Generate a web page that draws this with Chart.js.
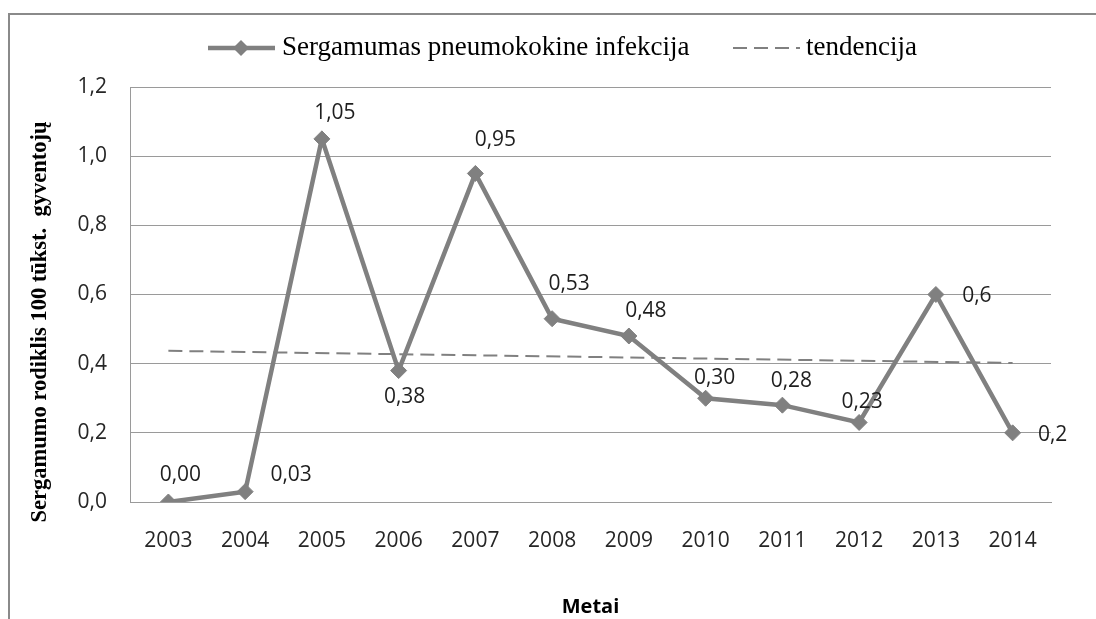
<!DOCTYPE html>
<html>
<head>
<meta charset="utf-8">
<script src="https://cdn.jsdelivr.net/npm/chart.js@4.4.1/dist/chart.umd.min.js"></script>
<style>
  html, body { margin: 0; padding: 0; background: #fff; }
  #wrap { width: 1096px; height: 619px; position: relative; }
</style>
</head>
<body>
<div id="wrap"><canvas id="chart" width="1096" height="619"></canvas></div>
<script>
// data
const years = ["2003", "2004", "2005", "2006", "2007", "2008", "2009", "2010", "2011", "2012", "2013", "2014"];
const incidence = [0.00, 0.03, 1.05, 0.38, 0.95, 0.53, 0.48, 0.30, 0.28, 0.23, 0.6, 0.2];
const valueLabels = ["0,00", "0,03", "1,05", "0,38", "0,95", "0,53", "0,48", "0,30", "0,28", "0,23", "0,6", "0,2"];
const trend = [0.437, null, null, null, null, null, null, null, null, null, null, 0.402];
const yTicks = [0, 0.2, 0.4, 0.6, 0.8, 1.0, 1.2];

const seriesName = "Sergamumas pneumokokine infekcija";
const trendName = "tendencija";
const yTitle = "Sergamumo rodiklis 100 tūkst.  gyventojų";
const xTitle = "Metai";

// where each value label sits relative to its point
const labelOffsets = [[12, -27], [46, -17], [13, -26], [6, 26], [20, -33], [17, -35],
                      [17, -25], [9, -20], [9, -24], [3, -20], [41, 2], [40, 2]];

const grey = "#808080";
const sansFont = "'Open Sans', sans-serif";
const serifFont = "'Liberation Serif', 'Times New Roman', serif";

const decorations = {
  id: "decorations",
  beforeDraw(chart) {
    const ctx = chart.ctx;
    ctx.save();
    ctx.strokeStyle = "#8a8a8a";
    ctx.lineWidth = 2;
    ctx.beginPath();
    ctx.moveTo(9, 619);
    ctx.lineTo(9, 14);
    ctx.lineTo(1096, 14);
    ctx.stroke();
    ctx.restore();
  },
  afterDatasetsDraw(chart) {
    const ctx = chart.ctx;
    const meta = chart.getDatasetMeta(0);
    ctx.save();
    ctx.font = "21px " + sansFont;
    ctx.fillStyle = "#1e1e1e";
    ctx.textAlign = "center";
    ctx.textBaseline = "middle";
    meta.data.forEach((pt, i) => {
      ctx.fillText(valueLabels[i], pt.x + labelOffsets[i][0], pt.y + labelOffsets[i][1]);
    });
    ctx.restore();
  },
  afterDraw(chart) {
    const ctx = chart.ctx;
    ctx.save();
    // legend
    const ly = 48;
    ctx.strokeStyle = grey;
    ctx.lineWidth = 4.5;
    ctx.beginPath();
    ctx.moveTo(208, ly);
    ctx.lineTo(275, ly);
    ctx.stroke();
    ctx.fillStyle = grey;
    ctx.beginPath();
    ctx.moveTo(241, ly - 8);
    ctx.lineTo(249, ly);
    ctx.lineTo(241, ly + 8);
    ctx.lineTo(233, ly);
    ctx.closePath();
    ctx.fill();
    ctx.font = "27px " + serifFont;
    ctx.fillStyle = "#000";
    ctx.textBaseline = "middle";
    ctx.textAlign = "left";
    ctx.fillText(seriesName, 282, ly);
    ctx.lineWidth = 2;
    ctx.setLineDash([14, 7]);
    ctx.beginPath();
    ctx.moveTo(733, ly);
    ctx.lineTo(800, ly);
    ctx.stroke();
    ctx.setLineDash([]);
    ctx.fillText(trendName, 806, ly);
    // y axis title
    ctx.translate(40, 322);
    ctx.rotate(-Math.PI / 2);
    ctx.font = "bold 22.5px " + serifFont;
    ctx.textAlign = "center";
    ctx.fillText(yTitle, 0, 0);
    ctx.restore();
  }
};

const ctx = document.getElementById("chart").getContext("2d");
new Chart(ctx, {
  type: "line",
  data: {
    labels: years,
    datasets: [{
      label: seriesName,
      data: incidence,
      borderColor: grey,
      backgroundColor: grey,
      borderWidth: 4.5,
      pointStyle: "rectRot",
      pointRadius: 8,
      pointBorderWidth: 1,
      pointBackgroundColor: grey,
      pointBorderColor: grey,
      tension: 0
    }, {
      label: trendName,
      data: trend,
      spanGaps: true,
      borderColor: grey,
      borderWidth: 2,
      borderDash: [14, 7],
      pointRadius: 0,
      tension: 0
    }]
  },
  options: {
    responsive: false,
    animation: false,
    layout: { padding: { top: 87, right: 45, left: 0, bottom: 0 } },
    plugins: {
      legend: { display: false },
      tooltip: { enabled: false }
    },
    scales: {
      x: {
        offset: true,
        grid: { display: false, drawTicks: false },
        border: { display: true, color: "#9a9a9a", width: 1 },
        ticks: { padding: 26, color: "#262626", font: { family: sansFont, size: 21 } },
        title: {
          display: true,
          text: xTitle,
          color: "#000",
          padding: { top: 0, bottom: 0 },
          font: { family: sansFont, size: 20, weight: "bold" }
        },
        afterFit(scale) { scale.height = 117; }
      },
      y: {
        min: 0,
        max: 1.2,
        afterBuildTicks(scale) { scale.ticks = yTicks.map(v => ({ value: v })); },
        grid: { color: "#9a9a9a", lineWidth: 1, drawTicks: false },
        border: { display: true, color: "#9a9a9a", width: 1 },
        ticks: {
          padding: 23,
          color: "#262626",
          font: { family: sansFont, size: 21 },
          callback: v => v.toFixed(1).replace(".", ",")
        },
        afterFit(scale) { scale.width = 130; }
      }
    }
  },
  plugins: [decorations]
});
</script>
</body>
</html>
